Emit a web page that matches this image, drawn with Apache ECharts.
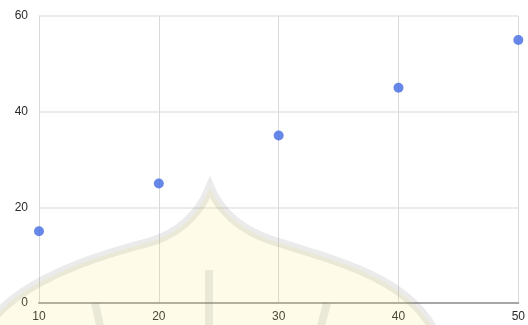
<!DOCTYPE html>
<html>
<head>
<meta charset="utf-8">
<style>
  html, body { margin: 0; padding: 0; background: #ffffff; }
  #chart { width: 528px; height: 325px; }
</style>
<script src="https://cdn.jsdelivr.net/npm/echarts@6/dist/echarts.min.js"></script>
</head>
<body>
<div id="chart"></div>
<script>
// Scatter data
const xValues = [10, 20, 30, 40, 50];
const yValues = [15, 25, 35, 45, 55];
const xTicks = [10, 20, 30, 40, 50];
const yTicks = [0, 20, 40, 60];

const points = xValues.map((x, i) => [x, yValues[i]]);

const chart = echarts.init(document.getElementById('chart'), null, { renderer: 'canvas' });

const labelFont = {
  color: '#2a2a2a',
  fontFamily: 'Liberation Sans, Arial, sans-serif',
  fontSize: 12
};

// Faint dome emblem in the lower part of the plot, built from cubic segments
function cubic(p0, p1, p2, p3, steps) {
  const out = [];
  for (let i = 0; i <= steps; i++) {
    const t = i / steps, u = 1 - t;
    out.push([
      u * u * u * p0[0] + 3 * u * u * t * p1[0] + 3 * u * t * t * p2[0] + t * t * t * p3[0],
      u * u * u * p0[1] + 3 * u * u * t * p1[1] + 3 * u * t * t * p2[1] + t * t * t * p3[1]
    ]);
  }
  return out;
}
const domeOutline = [].concat(
  cubic([-10, 322], [20, 284], [80, 260], [150, 242], 30),
  cubic([150, 242], [182, 232], [200, 212], [210, 187], 20).slice(1),
  cubic([210, 187], [220, 212], [242, 232], [280, 243], 20).slice(1),
  cubic([280, 243], [340, 262], [405, 278], [434, 330], 30).slice(1)
);
const domeFill = domeOutline.concat([[434, 330], [-10, 330]]);
const emblemGray = 'rgba(110,110,110,0.14)';

chart.setOption({
  animation: false,
  grid: { left: 39, right: 6, top: 16, bottom: 22, containLabel: false },
  xAxis: {
    type: 'value',
    min: xTicks[0],
    max: xTicks[xTicks.length - 1],
    interval: 10,
    axisLine: { show: true, onZero: false, lineStyle: { color: '#a6a6a6', width: 2 } },
    axisTick: { show: false },
    axisLabel: Object.assign({ margin: 8 }, labelFont),
    splitLine: { show: true, lineStyle: { color: '#d9d9d9', width: 1 } }
  },
  yAxis: {
    type: 'value',
    min: yTicks[0],
    max: yTicks[yTicks.length - 1],
    interval: 20,
    axisLine: { show: false },
    axisTick: { show: false },
    axisLabel: Object.assign({ margin: 11 }, labelFont),
    splitLine: { show: true, lineStyle: { color: '#ebebeb', width: 2 } }
  },
  series: [
    {
      type: 'scatter',
      data: points,
      symbol: 'circle',
      symbolSize: 10,
      itemStyle: { color: '#4169e4' },
      z: 3
    }
  ],
  graphic: [
    {
      type: 'polygon',
      z: 100,
      silent: true,
      shape: { points: domeFill },
      style: { fill: 'rgba(245,232,110,0.15)', stroke: null }
    },
    {
      type: 'polyline',
      z: 101,
      silent: true,
      shape: { points: domeOutline },
      style: { fill: null, stroke: emblemGray, lineWidth: 9 }
    },
    {
      type: 'line',
      z: 101,
      silent: true,
      shape: { x1: 209, y1: 270, x2: 209, y2: 330 },
      style: { stroke: emblemGray, lineWidth: 8 }
    },
    {
      type: 'line',
      z: 101,
      silent: true,
      shape: { x1: 95, y1: 303, x2: 101, y2: 330 },
      style: { stroke: emblemGray, lineWidth: 8 }
    },
    {
      type: 'line',
      z: 101,
      silent: true,
      shape: { x1: 327, y1: 303, x2: 320, y2: 330 },
      style: { stroke: emblemGray, lineWidth: 8 }
    }
  ]
});
</script>
</body>
</html>
